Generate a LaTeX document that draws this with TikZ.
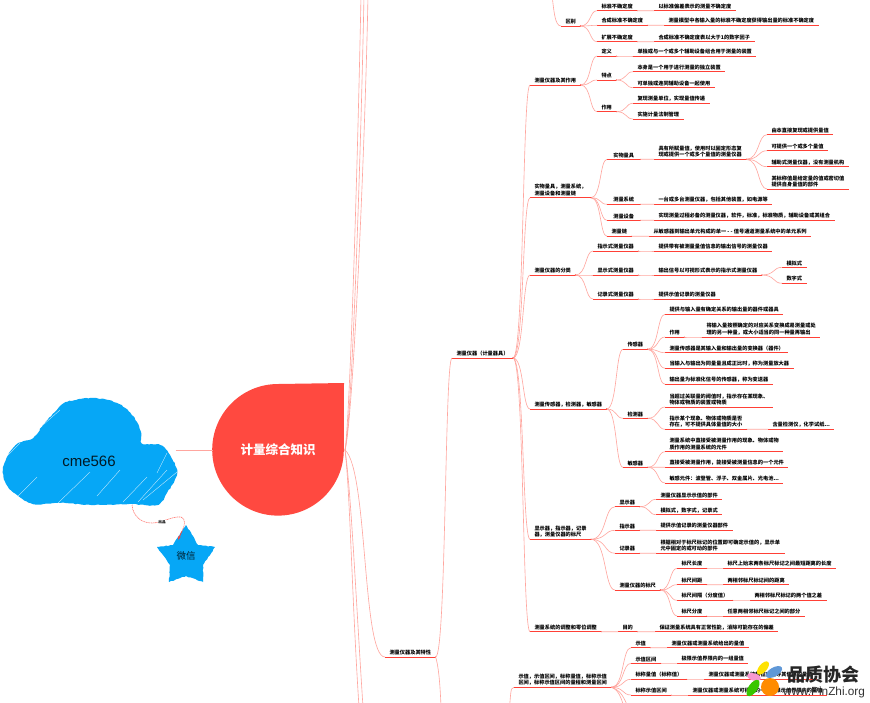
\documentclass[tikz,border=0pt]{standalone}
\usepackage{fontspec}
\setmainfont{Noto Sans CJK SC}
\newfontfamily\latinfont{Liberation Sans}
\usetikzlibrary{calc,arrows.meta,decorations.pathmorphing}
\definecolor{mmred}{HTML}{FF4036}
\definecolor{mmpale}{HTML}{FFA69F}
\definecolor{mmblue}{HTML}{06A7F6}
\def\Cm{^^^^ff0c}
\def\Lp{^^^^ff08}
\def\Rp{^^^^ff09}
\def\Cl{^^^^ff1a}
\tikzset{
  topic/.style={anchor=south west,inner xsep=4.3pt,inner ysep=1.6pt,align=left,
    font=\fontsize{5.2}{6.6}\selectfont\bfseries,text=black},
  uline/.style={draw=mmred,line width=.95pt},
  conn/.style={draw=mmpale,line width=.62pt},
  rough/.style={decorate,decoration={random steps,segment length=2.4pt,amplitude=.45pt}},
  hatch/.style={draw=white,line width=.35pt,opacity=.8},
}
\newcommand{\tp}[5][]{%
  \node[topic,#1] (#2) at (#3,#4) {#5};
  \draw[uline] (#2.south west) -- (#2.south east);}
\newcommand{\cv}[2]{%
  \draw[conn] (#1.south east) .. controls ($(#1.south east)!.65!(#2.south west |- #1.south east)$)
    and ($(#1.south east |- #2.south west)!.55!(#2.south west)$) .. (#2.south west);
  \fill[mmred] (#1.south east) circle[radius=.45pt];}
\begin{document}
\begin{tikzpicture}[x=1pt,y=-1pt]
\useasboundingbox (0,0) rectangle (870,702);
\clip (0,0) rectangle (870,702);
\fill[white] (0,0) rectangle (870,702);

% --- cloud, star, root
\fill[mmblue,rough] plot[smooth cycle,tension=.55] coordinates {
 (3,470) (7,457) (17,444) (33,438) (43,425) (55,412) (67,402) (93,398) (117,403) (133,416) (141,432)
 (142,443) (160,445) (170,455) (177,473) (167,493) (157,505) (130,504) (95,505) (60,503) (33,504) (17,495) (6,484)};
\draw[hatch] (17,497) -- (37,477) (58,503) -- (90,472) (97,496) -- (120,470) (123,502) -- (147,477)
  (138,502) -- (167,470) (143,500) -- (177,472) (157,473) -- (167,453) (43,425) -- (60,410) (8,455) -- (20,443);
\node[font=\latinfont\fontsize{15}{15}\selectfont,text=black!85!mmblue] (cloud) at (89,461) {cme566};
\coordinate (cloudR) at (175.5,450);
\coordinate (cloudB) at (132,505);

\fill[mmblue,rough] (186,525) -- (173,545) -- (157,547) -- (170,565) -- (169,582) -- (186,576)
   -- (203,582) -- (203,565) -- (215,547) -- (198,545) -- cycle;
\node[font=\fontsize{9.5}{9.5}\selectfont,text=black!80!mmblue] (star) at (186,556) {微信};
\coordinate (starT) at (178,540);

\draw[mmred!75!white,dash pattern=on 1.2pt off .6pt,line width=.55pt] (cloudB)
   .. controls (133,516) and (141,523) .. (152,523)
   .. controls (162,523) and (172,516) .. (181,517)
   .. controls (186,518) and (185,526) .. (182,531);
\draw[-{Stealth[length=4pt,width=2.6pt]},mmred,line width=.7pt] (182,531) -- (starT);
\node[fill=white,inner sep=.3pt,font=\fontsize{3.6}{3.6}\selectfont\bfseries] (linklabel) at (162,522) {出品};

\fill[mmred!95!white] (278,384) arc[start angle=90,end angle=360,radius=65.8pt] -- (344,383) -- cycle;
\node[text=white,font=\fontsize{12.5}{12.5}\selectfont\bfseries] (root) at (278,450) {计量综合知识};
\coordinate (rootR) at (345,450);
\coordinate (rootL) at (213,450);
\draw[conn,line width=.9pt] (cloudR) -- (rootL);

% --- free ends beyond the page
\coordinate (upA) at (361,-5);
\coordinate (upB) at (364,-5);
\coordinate (upC) at (368,-5);
\coordinate (downA) at (359,707);
\coordinate (downB) at (363,707);
\coordinate (downC) at (441,707);
\coordinate (offQ) at (552,-5);
\coordinate (offS) at (509,712);
\draw[conn] (rootR) .. controls (350,420) and (358,150) .. (upA);
\draw[conn] (rootR) .. controls (352,420) and (361,150) .. (upB);
\draw[conn] (rootR) .. controls (353,420) and (365,150) .. (upC);
\draw[conn] (rootR) .. controls (350,490) and (352,600) .. (downA);
\draw[conn] (rootR) .. controls (351,490) and (356,600) .. (downB);
\fill[mmred] (rootR) circle[radius=.45pt];

% --- level 1 and 2
\tp{meas}{385}{657}{测量仪器及其特性}
\tp{inst}{452}{358}{测量仪器\Lp{}计量器具\Rp}
\draw[conn] (rootR) .. controls (368,470) and (362,657) .. (meas.south west);
\cv{meas}{inst}
\draw[conn] (meas.south east) .. controls (438,664) and (440,680) .. (downC);

% --- group 0: top
\tp{diff}{561}{26}{区别}
\draw[conn] (offQ) .. controls (554,12) and (555,26) .. (diff.south west);
\tp{d1}{597}{10.7}{标准不确定度}
\tp{d1a}{654}{10.7}{以标准偏差表示的测量不确定度}
\tp{d2}{597}{25.3}{合成标准不确定度}
\tp{d2a}{664}{25.3}{测量模型中各输入量的标准不确定度获得输出量的标准不确定度}
\tp{d3}{597}{41.7}{扩展不确定度}
\tp{d3a}{654}{41.7}{合成标准不确定度表以大于1的数字因子}
\cv{diff}{d1}\cv{diff}{d2}\cv{diff}{d3}\cv{d1}{d1a}\cv{d2}{d2a}\cv{d3}{d3a}

% --- group 1
\tp{g1}{530}{85}{测量仪器及其作用}
\tp{g1a}{597}{56}{定义}
\tp{g1a1}{633}{56}{单独或与一个或多个辅助设备组合用于测量的装置}
\tp{g1b}{597}{80}{特点}
\tp{g1b1}{633}{71.7}{本身是一个用于进行测量的独立装置}
\tp{g1b2}{633}{87.7}{可单独或连同辅助设备一起使用}
\tp{g1c}{597}{111.7}{作用}
\tp{g1c1}{633}{103.3}{复现测量单位\Cm{}实现量值传递}
\tp{g1c2}{633}{119}{实施计量法制管理}
\cv{inst}{g1}\cv{g1}{g1a}\cv{g1}{g1b}\cv{g1}{g1c}\cv{g1a}{g1a1}\cv{g1b}{g1b1}\cv{g1b}{g1b2}\cv{g1c}{g1c1}\cv{g1c}{g1c2}

% --- group 2
\tp{g2}{530}{197.7}{实物量具\Cm{}测量系统\Cm\\测量设备和测量链}
\tp[minimum width=33pt]{g2a}{607}{159.3}{实物量具}
\tp{g2a1}{654}{159.3}{具有所赋量值\Cm{}使用时以固定形态复\\现或提供一个或多个量值的测量仪器}
\tp{g2a11}{767}{134.7}{由本直接复现或提供量值}
\tp{g2a12}{767}{150.7}{可提供一个或多个量值}
\tp{g2a13}{767}{166.7}{辅助式测量仪器\Cm{}没有测量机构}
\tp{g2a14}{767}{189}{其标称值是给定量的值或密切值\\提供自身量值的部件}
\tp[minimum width=33pt]{g2b}{607}{204.3}{测量系统}
\tp{g2b1}{654}{204.3}{一台或多台测量仪器\Cm{}包括其他装置\Cm{}如电源等}
\tp[minimum width=33pt]{g2c}{607}{220.3}{测量设备}
\tp{g2c1}{654}{220.3}{实现测量过程必备的测量仪器\Cm{}软件\Cm{}标准\Cm{}标准物质\Cm{}辅助设备或其组合}
\tp{g2d}{607}{236.3}{测量链}
\tp{g2d1}{649}{236.3}{从敏感器到输出单元构成的单一 - - 值号通道测量系统中的单元系列}
\cv{inst}{g2}\cv{g2}{g2a}\cv{g2}{g2b}\cv{g2}{g2c}\cv{g2}{g2d}
\cv{g2a}{g2a1}\cv{g2a1}{g2a11}\cv{g2a1}{g2a12}\cv{g2a1}{g2a13}\cv{g2a1}{g2a14}
\cv{g2b}{g2b1}\cv{g2c}{g2c1}\cv{g2d}{g2d1}

% --- group 3
\tp{g3}{530}{275}{测量仪器的分类}
\tp{g3a}{593}{251}{指示式测量仪器}
\tp{g3a1}{654}{251}{提供带有被测量量值信息的输出信号的测量仪器}
\tp{g3b}{593}{275}{显示式测量仪器}
\tp{g3b1}{654}{275}{输出信号以可视形式表示的指示式测量仪器}
\tp{g3b11}{782}{267.3}{模拟式}
\tp{g3b12}{782}{283.3}{数字式}
\tp{g3c}{593}{299}{记录式测量仪器}
\tp{g3c1}{654}{299}{提供示值记录的测量仪器}
\cv{inst}{g3}\cv{g3}{g3a}\cv{g3}{g3b}\cv{g3}{g3c}\cv{g3a}{g3a1}\cv{g3b}{g3b1}\cv{g3b1}{g3b11}\cv{g3b1}{g3b12}\cv{g3c}{g3c1}

% --- group 4
\tp{g4}{530}{409}{测量传感器\Cm{}检测器\Cm{}敏感器}
\tp{g4a}{623}{349.3}{传感器}
\tp{g4a1}{665}{314.3}{提供与输入量有确定关系的输出量的器件或器具}
\tp{g4a2}{665}{337}{作用}
\tp{g4a21}{702}{337}{将输入量按照确定的对应关系变换成易测量或处\\理的另一种量\Cm{}或大小适当的同一种量再输出}
\tp{g4a3}{665}{352.7}{测量传感器是其输入量和输出量的变换器\Lp{}器件\Rp}
\tp{g4a4}{665}{368.3}{当输入与输出为同量量且成正比时\Cm{}称为测量放大器}
\tp{g4a5}{665}{384.3}{输出量为标准化信号的传感器\Cm{}称为变送器}
\tp{g4b}{623}{418.3}{检测器}
\tp{g4b1}{665}{407}{当超过关联量的阈值时\Cm{}指示存在某现象、\\物体或物质的装置或物质}
\tp{g4b2}{665}{429.3}{指示某个现象、物体或物质是否\\存在\Cm{}可不提供具体量值的大小}
\tp{g4b21}{768}{429.3}{含量检测仪\Cm{}化学试纸...}
\tp{g4c}{623}{467.3}{敏感器}
\tp{g4c1}{665}{451.7}{测量系统中直接受被测量作用的现象、物体或物\\质作用的测量系统的元件}
\tp{g4c2}{665}{467.3}{直接受被测量作用\Cm{}能接受被测量信息的一个元件}
\tp{g4c3}{665}{483}{敏感元件\Cl{}波登管、浮子、双金属片、光电池...}
\cv{inst}{g4}\cv{g4}{g4a}\cv{g4}{g4b}\cv{g4}{g4c}
\cv{g4a}{g4a1}\cv{g4a}{g4a2}\cv{g4a}{g4a3}\cv{g4a}{g4a4}\cv{g4a}{g4a5}\cv{g4a2}{g4a21}
\cv{g4b}{g4b1}\cv{g4b}{g4b2}\cv{g4b2}{g4b21}\cv{g4c}{g4c1}\cv{g4c}{g4c2}\cv{g4c}{g4c3}

% --- group 5
\tp{g5}{530}{539.3}{显示器\Cm{}指示器\Cm{}记录\\器\Cm{}测量仪器的标尺}
\tp{g5a}{615}{506.7}{显示器}
\tp{g5a1}{656}{499.3}{测量仪器显示示值的部件}
\tp{g5a2}{656}{514.7}{模拟式\Cm{}数字式\Cm{}记录式}
\tp{g5b}{615}{530.3}{指示器}
\tp{g5b1}{656}{530.3}{提供示值记录的测量仪器部件}
\tp{g5c}{615}{553.3}{记录器}
\tp{g5c1}{656}{553.3}{根据相对于标尺标记的位置即可确定示值的\Cm{}显示单\\元中固定的或可动的部件}
\tp{g5d}{615}{590}{测量仪器的标尺}
\tp{g5d1}{677}{568.3}{标尺长度}
\tp{g5d11}{723}{568.3}{标尺上始末两条标尺标记之间最短距离的长度}
\tp{g5d2}{677}{584.7}{标尺间距}
\tp{g5d21}{723}{584.7}{两相邻标尺标记间的距离}
\tp{g5d3}{677}{600.3}{标尺间隔\Lp{}分度值\Rp}
\tp{g5d31}{750}{600.3}{两相邻标尺标记的两个值之差}
\tp{g5d4}{677}{616}{标尺分度}
\tp{g5d41}{723}{616}{任意两相邻标尺标记之间的部分}
\cv{inst}{g5}\cv{g5}{g5a}\cv{g5}{g5b}\cv{g5}{g5c}\cv{g5}{g5d}
\cv{g5a}{g5a1}\cv{g5a}{g5a2}\cv{g5b}{g5b1}\cv{g5c}{g5c1}
\cv{g5d}{g5d1}\cv{g5d}{g5d2}\cv{g5d}{g5d3}\cv{g5d}{g5d4}
\cv{g5d1}{g5d11}\cv{g5d2}{g5d21}\cv{g5d3}{g5d31}\cv{g5d4}{g5d41}

% --- group 6
\tp{g6}{530}{631.7}{测量系统的调整和零位调整}
\tp{g6a}{618}{631.7}{目的}
\tp{g6a1}{655}{631.7}{保证测量系统具有正常性能\Cm{}消除可能存在的偏差}
\cv{inst}{g6}\cv{g6}{g6a}\cv{g6a}{g6a1}

% --- group 7
\tp{g7}{514}{687.3}{示值\Cm{}示值区间\Cm{}标称量值\Cm{}标称示值\\区间\Cm{}标称示值区间的量程和测量区间}
\tp{g7a}{631}{647.7}{示值}
\tp{g7a1}{667}{647.7}{测量仪器或测量系统给出的量值}
\tp{g7b}{631}{663.3}{示值区间}
\tp{g7b1}{677}{663.3}{极限示值界限内的一组量值}
\tp{g7c}{631}{679.3}{标称量值\Lp{}标称值\Rp}
\tp{g7c1}{704}{679.3}{测量仪器或测量系统特征或指导其使用的量值}
\tp{g7d}{631}{695}{标称示值区间}
\tp{g7d1}{688}{695}{测量仪器或测量系统可得到的一组极限示值界限内的量值}
\draw[conn] (offS) .. controls (511,695) and (510,687.3) .. (g7.south west);
\cv{g7}{g7a}\cv{g7}{g7b}\cv{g7}{g7c}\cv{g7}{g7d}\cv{g7a}{g7a1}\cv{g7b}{g7b1}\cv{g7c}{g7c1}\cv{g7d}{g7d1}
\coordinate (downD) at (624,707);
\coordinate (downE) at (628,707);
\draw[conn] (g7.south east) .. controls (619,690) and (621,698) .. (downD);
\draw[conn] (g7.south east) .. controls (621,690) and (624,698) .. (downE);

% --- watermark logo
\fill[yellow!85!orange,rotate around={50:(763,668)}] (763,668) ellipse[x radius=8pt,y radius=4pt];
\fill[cyan!55!blue!65!white,rotate around={30:(774,672)}] (774,672) ellipse[x radius=9pt,y radius=4.5pt];
\fill[magenta!40!white,rotate around={-15:(754,677)}] (754,677) ellipse[x radius=7pt,y radius=3.6pt];
\fill[green!55!olive,rotate around={55:(753,688)}] (753,688) ellipse[x radius=9.5pt,y radius=4.5pt];
\fill[orange!90!yellow] (770,687) circle[radius=9pt];
\node[font=\fontsize{18}{18}\selectfont\bfseries,text=black!85,inner sep=0pt] (brand) at (823,675) {品质协会};
\node[font=\latinfont\fontsize{11.8}{12}\selectfont,text=black!80,inner sep=0pt] (site) at (824,692) {www.PinZhi.org};
\end{tikzpicture}
\end{document}
